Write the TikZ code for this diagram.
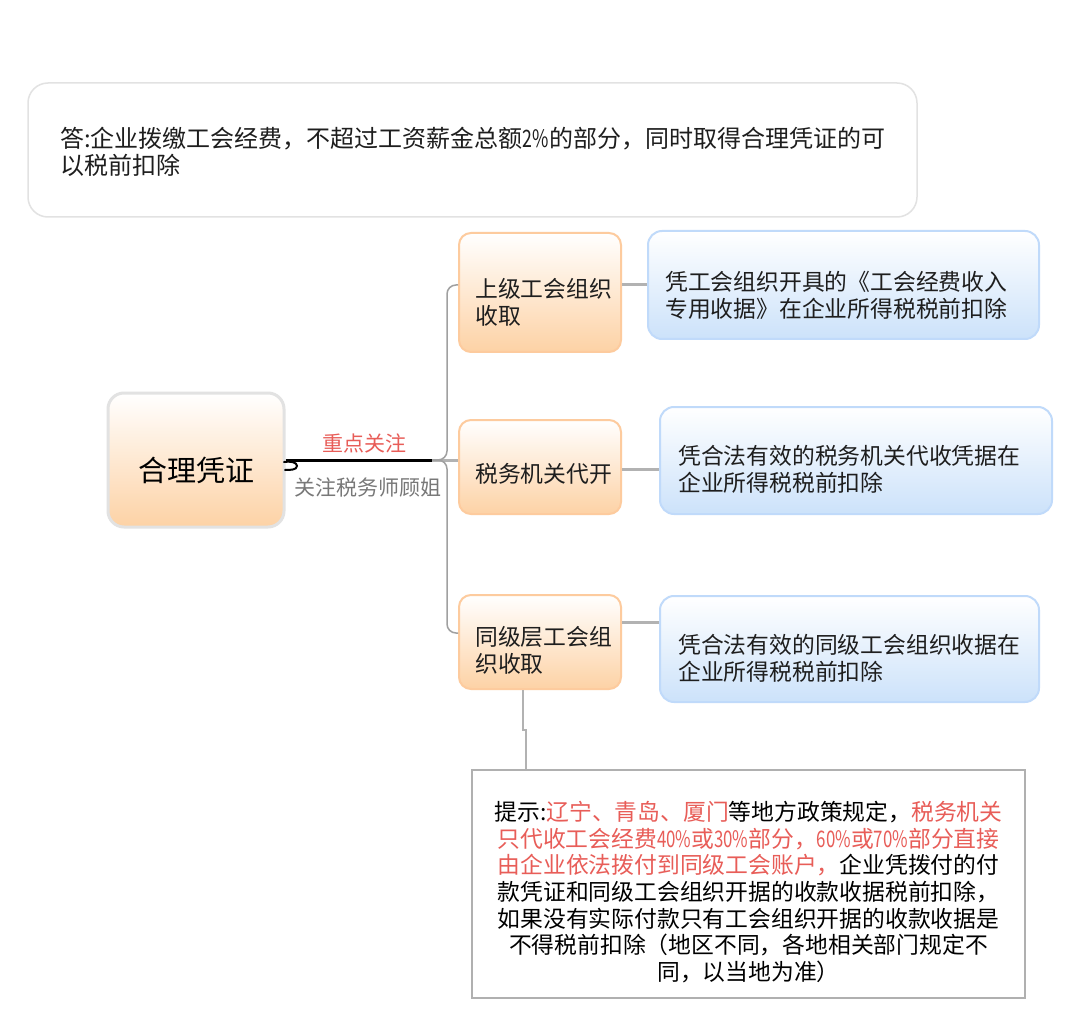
\documentclass[tikz,border=0pt]{standalone}
\usepackage{fontspec}
\setmainfont{Noto Sans CJK SC}
\usetikzlibrary{calc}
\newcommand{\narrowdig}[1]{\scalebox{0.74}[1]{#1}}
\definecolor{txtdark}{RGB}{30,30,30}
\definecolor{redtxt}{RGB}{232,93,88}
\definecolor{graytxt}{RGB}{120,120,120}
\definecolor{peach}{RGB}{253,210,165}
\definecolor{orangeline}{RGB}{253,203,158}
\definecolor{bluebottom}{RGB}{204,226,250}
\definecolor{blueline}{RGB}{192,218,250}
\definecolor{lightline}{RGB}{226,226,226}
\definecolor{tipline}{RGB}{176,176,176}
\definecolor{conngray}{RGB}{178,178,178}
\definecolor{branchgray}{RGB}{160,160,160}
\begin{document}
\begin{tikzpicture}[x=1pt,y=-1pt,
  txt/.style={inner sep=0pt, font=\fontsize{22.8}{27}\selectfont, text=txtdark, align=left},
  orangebox/.style={draw=orangeline, line width=2pt, rounded corners=12pt, top color=white, bottom color=peach, inner sep=0pt},
  bluebox/.style={draw=blueline, line width=2pt, rounded corners=14pt, top color=white, bottom color=bluebottom, inner sep=0pt},
  mainbox/.style={draw=lightline, line width=3pt, rounded corners=16pt, top color=white, bottom color=peach, inner sep=0pt},
  topbox/.style={draw=lightline, line width=1.5pt, rounded corners=20pt, fill=white, inner sep=0pt},
  tipbox/.style={draw=tipline, line width=2.5pt, fill=white, inner sep=0pt},
  conn/.style={draw=conngray, line width=3pt},
  branch/.style={draw=branchgray, line width=1.5pt, rounded corners=9pt}
]
\useasboundingbox[fill=white] (0,0) rectangle (1080,1027);

% top answer box
\node[topbox, minimum width=889pt, minimum height=134pt] (top) at (472.5,150) {};
\node[txt, anchor=west, font=\fontsize{24}{27}\selectfont] (toptxt) at (60,151.5)
  {答:企业拨缴工会经费，不超过工资薪金总额\narrowdig{2\%}的部分，同时取得合理凭证的可\\以税前扣除};

% central node
\node[mainbox, minimum width=176pt, minimum height=134pt] (c) at (196,460) {};
\node[txt, font=\fontsize{29}{29}\selectfont, text=black] (ctxt) at (196,470) {合理凭证};

% branch nodes
\node[orangebox, minimum width=162pt, minimum height=119pt] (n1) at (540,292.5) {};
\node[txt, anchor=west] (t1) at (475,302.5) {上级工会组织\\收取};
\node[orangebox, minimum width=162pt, minimum height=94pt] (n2) at (540,467) {};
\node[txt, anchor=west] (t2) at (475,474) {税务机关代开};
\node[orangebox, minimum width=162pt, minimum height=94pt] (n3) at (540,642) {};
\node[txt, anchor=west] (t3) at (475,650) {同级层工会组\\织收取};

% blue boxes
\node[bluebox, minimum width=391pt, minimum height=108pt] (b1) at (843.5,285) {};
\node[txt, anchor=west] (bt1) at (665,295) {凭工会组织开具的《工会经费收入\\专用收据》在企业所得税税前扣除};
\node[bluebox, minimum width=392pt, minimum height=107pt] (b2) at (856,460.5) {};
\node[txt, anchor=west] (bt2) at (678,469.5) {凭合法有效的税务机关代收凭据在\\企业所得税税前扣除};
\node[bluebox, minimum width=379pt, minimum height=106pt] (b3) at (849.5,649) {};
\node[txt, anchor=west] (bt3) at (678,658.5) {凭合法有效的同级工会组织收据在\\企业所得税税前扣除};

% tip box
\node[tipbox, minimum width=553pt, minimum height=228pt] (tip) at (748.5,884) {};
\node[txt, align=center, text=black, font=\fontsize{22.8}{26.7}\selectfont] (tiptxt) at (748.5,892)
  {提示:\textcolor{redtxt}{辽宁、青岛、厦门}等地方政策规定，\textcolor{redtxt}{税务机关}\\
   \textcolor{redtxt}{只代收工会经费\narrowdig{40\%}或\narrowdig{30\%}部分，\narrowdig{60\%}或\narrowdig{70\%}部分直接}\\
   \textcolor{redtxt}{由企业依法拨付到同级工会账户，}企业凭拨付的付\\
   款凭证和同级工会组织开据的收款收据税前扣除，\\
   如果没有实际付款只有工会组织开据的收款收据是\\
   不得税前扣除（地区不同，各地相关部门规定不\\
   同，以当地为准）};

% connectors
\coordinate (J) at (432,460);
\draw[line width=3pt, black] (c.east) -- (J);
\draw[line width=2pt, black, line cap=round] (284,462) .. controls (290,461) and (297,462) .. (297,466) .. controls (297,470) and (290,470) .. (285,470);
\node[inner sep=0pt, font=\fontsize{21}{21}\selectfont, text=redtxt] (lab1) at (364,443) {重点关注};
\node[inner sep=0pt, font=\fontsize{21}{21}\selectfont, text=graytxt] (lab2) at (368,488) {关注税务师顾姐};

\draw[conn] (J) -- (J -| n2.west);
\draw[branch] (J) -- (447,460) -- (447,285) -- (n1.west |- b1.west);
\draw[branch] (J) -- (447,460) -- (447,633) -- ([yshift=9pt]n3.west);

\draw[conn] (n1.east |- b1.west) -- (b1.west);
\draw[conn] ([yshift=-2pt]n2.east) -- ([yshift=-2pt]n2.east -| b2.west);
\draw[conn] ([yshift=20pt]n3.east) -- ([yshift=20pt]n3.east -| b3.west);

\coordinate (k1) at (523,730);
\draw[draw=conngray, line width=2.5pt] (n3.south -| k1) -- (k1) -- (526,730) -- (tip.north -| 526,0);
\end{tikzpicture}
\end{document}
